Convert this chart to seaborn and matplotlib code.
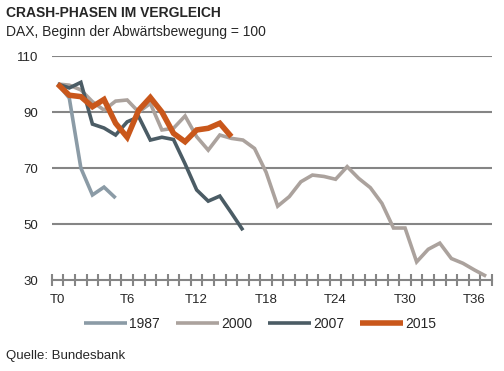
import numpy as np
import pandas as pd
import matplotlib
matplotlib.use("Agg")
import matplotlib.pyplot as plt
from matplotlib.ticker import MultipleLocator, FixedLocator
import seaborn as sns

# DAX index, start of the downturn = 100, one value per period T0, T1, ...
dax_1987 = [100, 95, 70, 60.4, 63.2, 59.3]
dax_2000 = [100, 99.6, 97.9, 93.7, 90.7, 93.9, 94.3, 90, 93.1, 83.6,
            84.2, 88.6, 81.2, 76.4, 81.8, 80.6, 80, 77, 68.5, 56.4,
            59.8, 65.1, 67.5, 67, 66, 70.5, 66.3, 63, 57.4, 48.6,
            48.6, 36.5, 41, 43.2, 37.7, 36, 33.6, 31.4]
dax_2007 = [100, 98.6, 100.6, 85.7, 84.3, 81.8, 86.5, 88.3, 80, 81,
            80.2, 71.5, 62.2, 58.2, 60, 54, 47.8]
dax_2015 = [100, 96, 95.5, 91.9, 94.5, 86, 81, 90.7, 95.2, 90,
            82.4, 79.4, 83.6, 84.2, 86, 81.2]

series = {"1987": dax_1987, "2000": dax_2000, "2007": dax_2007, "2015": dax_2015}
colors = {"1987": "#8b9ba6", "2000": "#aba29d", "2007": "#4b5c65", "2015": "#c9571b"}
widths = {"1987": 2.6, "2000": 2.6, "2007": 2.6, "2015": 4.0}

x_labels = ["T0", "T6", "T12", "T18", "T24", "T30", "T36"]

frames = []
for name, vals in series.items():
    frames.append(pd.DataFrame({"t": np.arange(len(vals)), "dax": vals, "crash": name}))
df = pd.concat(frames, ignore_index=True)

sns.set_style("white")
plt.rcParams["font.family"] = ["Liberation Sans", "DejaVu Sans"]

fig = plt.figure(figsize=(5.04, 3.71), dpi=100)
ax = fig.add_axes([0.103, 0.245, 0.873, 0.604])

for name in series:
    sns.lineplot(data=df[df["crash"] == name], x="t", y="dax", ax=ax,
                 color=colors[name], linewidth=widths[name], label=name,
                 solid_joinstyle="miter", solid_capstyle="butt")

ax.set_xlim(-0.5, 37.5)
ax.set_ylim(30, 110)
ax.set_yticks([30, 50, 70, 90, 110])
for v in [50, 70, 90, 110]:
    ax.axhline(v, color="#858585", linewidth=1.5, zorder=0)

ax.xaxis.set_major_locator(FixedLocator([0, 6, 12, 18, 24, 30, 36]))
ax.set_xticklabels(x_labels)
ax.xaxis.set_minor_locator(MultipleLocator(1, offset=0.5))
ax.tick_params(axis="x", which="major", length=0, pad=10, labelsize=9.5)
ax.tick_params(axis="x", which="minor", length=8, width=1.5, direction="inout",
               color="#858585", bottom=True)
ax.tick_params(axis="y", length=0, pad=10, labelsize=9.5)

for s in ["top", "right", "left"]:
    ax.spines[s].set_visible(False)
ax.spines["bottom"].set_color("#858585")
ax.spines["bottom"].set_linewidth(1.5)
ax.set_xlabel("")
ax.set_ylabel("")

ax.legend(loc="upper center", bbox_to_anchor=(0.473, -0.11), ncol=4, frameon=False,
          fontsize=10, handlelength=3.1, handletextpad=0.15, columnspacing=1.15)

fig.text(0.012, 0.965, "CRASH-PHASEN IM VERGLEICH", fontsize=10, fontweight="bold",
         va="center", ha="left")
fig.text(0.012, 0.915, "DAX, Beginn der Abwärtsbewegung = 100", fontsize=10,
         va="center", ha="left")
fig.text(0.012, 0.04, "Quelle: Bundesbank", fontsize=9.5, va="center", ha="left")

fig.savefig("out.png", dpi=100)
